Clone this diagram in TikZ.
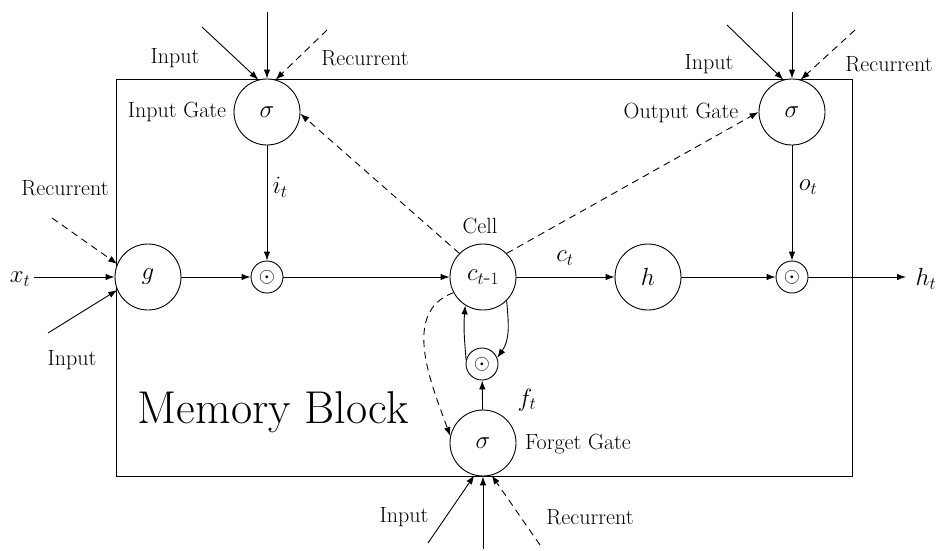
\documentclass[tikz,border=0pt]{standalone}
\usetikzlibrary{arrows.meta}
\begin{document}
\begin{tikzpicture}[x=1pt,y=-1pt,
  every path/.style={line width=0.9pt},
  arr/.style={-{Latex[length=9pt,width=6.5pt]}},
  dsh/.style={dash pattern=on 7pt off 5pt},
  bigc/.style={draw,circle,minimum size=66pt,inner sep=0pt,font=\fontsize{23}{26}\selectfont},
  smallc/.style={draw,circle,minimum size=32pt,inner sep=0pt,font=\fontsize{20}{22}\selectfont},
  lbl/.style={font=\fontsize{22}{25}\selectfont,inner sep=0pt},
  mlbl/.style={font=\fontsize{23}{26}\selectfont,inner sep=0pt}]
\path[use as bounding box] (0,0) rectangle (937,550);
% memory block
\draw (116,79) rectangle (852,476);
\node[lbl,font=\fontsize{46}{50}\selectfont] (mb) at (273,412) {Memory Block};
% nodes
\node[bigc,fill=white] (ig) at (267,112) {$\sigma$};
\node[bigc,fill=white] (og) at (792,112) {$\sigma$};
\node[bigc,fill=white] (g) at (148,277) {$g$};
\node[smallc,fill=white] (m1) at (267,277) {$\odot$};
\node[bigc,fill=white] (cell) at (483,277) {$c_{t\mbox{-}1}$};
\node[bigc,fill=white] (h) at (648,277) {$h$};
\node[smallc,fill=white] (m2) at (792,277) {$\odot$};
\node[smallc,fill=white] (m3) at (482,364) {$\odot$};
\node[bigc,fill=white] (fg) at (483,443) {$\sigma$};
% free-end coordinates
\coordinate (igA) at (202,27);
\coordinate (igB) at (267,12);
\coordinate (igC) at (327,30);
\coordinate (ogA) at (727,25);
\coordinate (ogB) at (792,12);
\coordinate (ogC) at (855,30);
\coordinate (gR) at (52,218);
\coordinate (gX) at (34,277);
\coordinate (gI) at (48,333);
\coordinate (fgA) at (428,543);
\coordinate (fgB) at (483,549);
\coordinate (fgC) at (540,545);
\coordinate (hout) at (906,277);
% text labels
\node[lbl] (t1) at (175,58) {Input};
\node[lbl] (t2) at (365,58) {Recurrent};
\node[lbl] (t3) at (709,64) {Input};
\node[lbl] (t4) at (889,64) {Recurrent};
\node[lbl] (t5) at (177,112) {Input Gate};
\node[lbl] (t6) at (681,113) {Output Gate};
\node[lbl] (t7) at (65,188) {Recurrent};
\node[lbl] (t8) at (72,360) {Input};
\node[lbl] (t9) at (480,226) {Cell};
\node[lbl] (t10) at (578,444) {Forget Gate};
\node[lbl] (t11) at (404,517) {Input};
\node[lbl] (t12) at (590,517) {Recurrent};
\node[mlbl] (l1) at (20,279) {$x_t$};
\node[mlbl] (l2) at (280,187) {$i_t$};
\node[mlbl] (l3) at (808,187) {$o_t$};
\node[mlbl] (l4) at (565,258) {$c_t$};
\node[mlbl] (l5) at (926,279) {$h_t$};
\node[mlbl] (l6) at (527,400) {$f_t$};
% input gate inputs
\draw[arr] (igA) -- (ig.105);
\draw[arr] (igB) -- (ig.north);
\draw[arr,dsh] (igC) -- (ig.75);
% output gate inputs
\draw[arr] (ogA) -- (og.105);
\draw[arr] (ogB) -- (og.north);
\draw[arr,dsh] (ogC) -- (og.75);
% g inputs
\draw[arr,dsh] (gR) -- (g.157);
\draw[arr] (gX) -- (g.west);
\draw[arr] (gI) -- (g.203);
% forget gate inputs
\draw[arr] (fgA) -- (fg.255);
\draw[arr] (fgB) -- (fg.south);
\draw[arr,dsh] (fgC) -- (fg.285);
% main flow
\draw[arr] (ig) -- (m1);
\draw[arr] (g) -- (m1);
\draw[arr] (m1) -- (cell);
\draw[arr] (cell) -- (h);
\draw[arr] (h) -- (m2);
\draw[arr] (og) -- (m2);
\draw[arr] (m2) -- (hout);
\draw[arr] (fg) -- (m3);
% peephole dashed
\draw[arr,dsh] (cell.135) -- (ig.-3);
\draw[arr,dsh] (cell.45) -- (og.180);
% loop
\draw[arr] (cell.-45) to[out=-85,in=55] (m3.22);
\draw[arr] (m3.165) to[out=95,in=-95] (cell.-122);
\draw[arr,dsh] (cell.-152) to[out=200,in=110] (fg.168);
\end{tikzpicture}
\end{document}
